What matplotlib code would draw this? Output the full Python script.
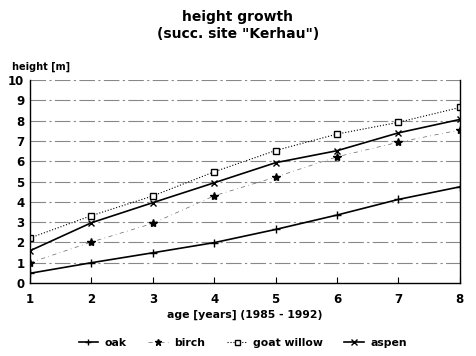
import matplotlib
matplotlib.use("Agg")
import matplotlib.pyplot as plt

years = [1, 2, 3, 4, 5, 6, 7, 8]
oak = [0.48, 1.0, 1.49, 1.99, 2.64, 3.35, 4.12, 4.74]
birch = [1.0, 2.02, 2.94, 4.3, 5.22, 6.22, 6.94, 7.54]
goat_willow = [2.22, 3.32, 4.29, 5.48, 6.53, 7.34, 7.92, 8.65]
aspen = [1.59, 2.97, 3.96, 4.94, 5.93, 6.52, 7.4, 8.06]
yticks = list(range(0, 11))

plt.rcParams['font.family'] = ['DejaVu Sans']
plt.rcParams['font.weight'] = 'bold'

fig = plt.figure(figsize=(4.76, 3.56), dpi=100)
ax = fig.add_axes([0.063, 0.205, 0.903, 0.57])

for v in yticks[1:]:
    ax.axhline(v, color='#888888', lw=0.8, ls=(0, (14, 3, 2, 3)), zorder=0)

ax.plot(years, oak, color='black', lw=1.2, marker='+', ms=6, mew=1, label='oak')
ax.plot(years, birch, color='#666666', lw=0.5, ls=(0, (6, 5, 1, 5)), marker='*', ms=6,
        mfc='black', mec='black', label='birch')
ax.plot(years, goat_willow, color='black', lw=0.8, ls=':', marker='s', ms=4.5, mfc='white', mew=1, label='goat willow')
ax.plot(years, aspen, color='black', lw=1.2, marker='x', ms=5, mew=1, label='aspen')

ax.set_xlim(1, 8)
ax.set_ylim(0, 10)
ax.set_xticks(years)
ax.set_yticks(yticks)
ax.tick_params(axis='both', labelsize=8.5, length=0, pad=4)
ax.tick_params(axis='x', direction='in', length=4, pad=7)
ax.spines['top'].set_visible(False)
for s in ['left', 'right', 'bottom']:
    ax.spines[s].set_linewidth(1.0)

ax.set_xlabel('age [years] (1985 - 1992)', fontsize=7.8, fontweight='bold', labelpad=3)
fig.text(0.025, 0.812, 'height [m]', fontsize=7, fontweight='bold', va='center', ha='left')
fig.text(0.5, 0.953, 'height growth', fontsize=10, fontweight='bold', ha='center', va='center')
fig.text(0.5, 0.904, '(succ. site "Kerhau")', fontsize=10, fontweight='bold', ha='center', va='center')

fig.legend(loc='center', bbox_to_anchor=(0.51, 0.037), ncol=4, frameon=False,
           fontsize=7.8, handlelength=1.8, columnspacing=2.0, handletextpad=0.6, markerscale=0.8)

fig.savefig('out.png', dpi=100)
